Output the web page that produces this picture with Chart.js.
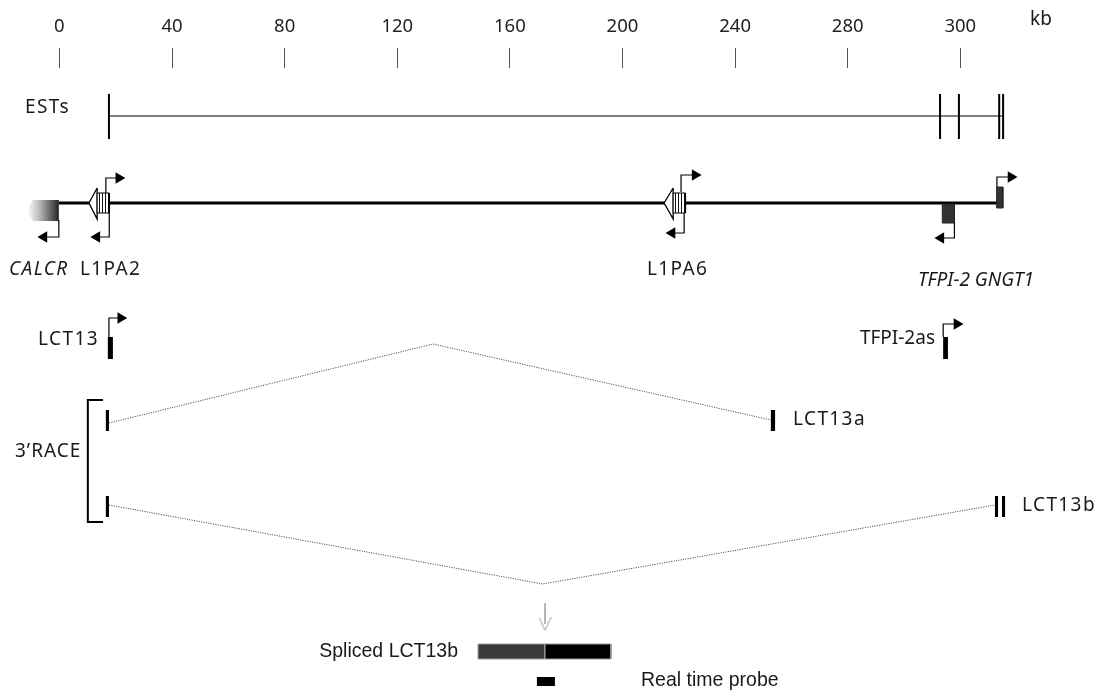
<!DOCTYPE html>
<html>
<head>
<meta charset="utf-8">
<script src="https://cdn.jsdelivr.net/npm/chart.js@4.4.1/dist/chart.umd.min.js"></script>
<style>
  html, body { margin: 0; padding: 0; background: #fff; }
  #wrap { width: 1098px; height: 691px; position: relative; }
</style>
</head>
<body>
<div id="wrap"><canvas id="map"></canvas></div>
<script>
// ---- data (positions along the drawn kb axis) ----
const tickPos = [0, 40, 80, 120, 160, 200, 240, 280, 320];
const tickLabels = ['0', '40', '80', '120', '160', '200', '240', '280', '300'];

const estStart = 17.6;
const estEnds = [312.8, 319.5, 333.8, 335.2];

const locusSpan = [-0.2, 333.0];
const calcrBox = [-11.5, -9.4, -0.2];      // tip, shoulder, right edge
const l1Tips = [10.5, 214.8];
const l1Bodies = [[13.4, 17.7], [218.0, 222.4]];
const tfpi2Box = [313.6, 317.9];
const gngt1Box = [332.9, 335.1];

const promoterStem = [-0.2, 16.5, 17.7, 220.8, 221.9, 317.9, 333.0, 17.6, 313.9];
const promoterHead = [-5.5, 21.1, 13.3, 225.8, 217.6, 313.1, 338.0, 21.8, 318.8];

const lct13Exon = [17.2, 19.0];
const tfpi2asExon = [313.9, 315.6];

const lct13aExons = [[16.5, 17.6], [252.7, 254.2]];
const lct13aApex = 132.7;
const lct13bExons = [[16.5, 17.6], [332.3, 333.4], [334.8, 335.9]];
const lct13bApex = 171.7;
const raceBracket = [10.1, 15.5];

const splicedExons = [[148.7, 172.5], [172.5, 195.9]];
const probe = [169.6, 176.0];

// ---- layout rows (pixels) ----
const EST_Y = 116, EST_TOP = 94, EST_BOT = 139;
const LOCUS_Y = 203;
const promoterY = [[220, 237], [193, 178], [213, 237], [192, 175], [213, 233], [223, 238], [187, 177], [337, 318], [337, 324]];

function line(pts, color, width, extra) {
  return Object.assign({
    data: pts.map(p => ({ x: p[0], y: p[1] })),
    showLine: true, borderColor: color, borderWidth: width,
    pointRadius: 0, fill: false
  }, extra || {});
}
function poly(pts, bg, border, bw) {
  const closed = pts.concat([pts[0]]);
  return line(closed, border || bg, bw === undefined ? 0 : bw, { fill: 'shape', backgroundColor: bg });
}
function box(x0, x1, y0, y1, bg, border, bw) {
  return poly([[x0, y0], [x1, y0], [x1, y1], [x0, y1]], bg, border, bw);
}

// striped fill for the L1 elements
const stripe = document.createElement('canvas');
stripe.width = 3; stripe.height = 4;
const sc = stripe.getContext('2d');
sc.fillStyle = '#fff'; sc.fillRect(0, 0, 3, 4);
sc.fillStyle = '#111'; sc.fillRect(0, 0, 1, 4);
const stripePattern = sc.createPattern(stripe, 'repeat');

// open grey arrow head
const vHead = document.createElement('canvas');
vHead.width = 13; vHead.height = 15;
const vc = vHead.getContext('2d');
vc.strokeStyle = '#9a9a9a'; vc.lineWidth = 1;
vc.beginPath(); vc.moveTo(0.5, 0.5); vc.lineTo(6.5, 14); vc.lineTo(12.5, 0.5); vc.stroke();

const ds = [];

// EST track
ds.push(line([[estStart, EST_Y], [estEnds[estEnds.length - 1], EST_Y]], '#000', 1));
[estStart].concat(estEnds).forEach(x => ds.push(line([[x, EST_TOP], [x, EST_BOT]], '#000', 2)));

// genomic locus
ds.push(line([[locusSpan[0], LOCUS_Y], [locusSpan[1], LOCUS_Y]], '#000', 3));
ds.push(poly([[calcrBox[0], 210], [calcrBox[1], 200], [calcrBox[2], 200], [calcrBox[2], 221], [calcrBox[1], 221]],
  function (c) {
    const ch = c.chart;
    if (!ch.chartArea) return '#333';
    const xs = ch.scales.x;
    const g = ch.ctx.createLinearGradient(xs.getPixelForValue(calcrBox[0]), 0, xs.getPixelForValue(calcrBox[2]), 0);
    g.addColorStop(0, 'rgba(50,50,50,0)');
    g.addColorStop(0.35, 'rgba(50,50,50,0.3)');
    g.addColorStop(1, 'rgba(35,35,35,1)');
    return g;
  }, 'rgba(0,0,0,0)', 0));
l1Tips.forEach((tip, i) => {
  const b = l1Bodies[i];
  ds.push(poly([[b[0], 188], [tip, LOCUS_Y], [b[0], 219]], '#fff', '#000', 1.3));
  ds.push(box(b[0], b[1], 193, 213, stripePattern, '#000', 1));
});
ds.push(box(tfpi2Box[0], tfpi2Box[1], 204, 223, '#333', '#222', 1));
ds.push(box(gngt1Box[0], gngt1Box[1], 187, 208, '#333', '#222', 1));

// transcripts
ds.push(box(lct13Exon[0], lct13Exon[1], 337, 359, '#000'));
ds.push(box(tfpi2asExon[0], tfpi2asExon[1], 337, 359, '#000'));

// promoter arrows (head on the last point)
promoterStem.forEach((s, i) => {
  const y = promoterY[i];
  const dir = promoterHead[i] > s ? 90 : -90;
  ds.push(line([[s, y[0]], [s, y[1]], [promoterHead[i], y[1]]], '#000', 1.2, {
    pointRadius: [0, 0, 6.5], pointStyle: 'triangle', pointRotation: dir,
    pointBackgroundColor: '#000', pointBorderColor: '#000', pointBorderWidth: 0
  }));
});

// 3'RACE
ds.push(line([[raceBracket[1], 400], [raceBracket[0], 400], [raceBracket[0], 522], [raceBracket[1], 522]], '#000', 2));
const dotted = { borderDash: [1.2, 1.2] };
ds.push(line([[lct13aExons[0][1], 423], [lct13aApex, 344], [lct13aExons[1][0], 420]], '#555', 1, dotted));
ds.push(line([[lct13bExons[0][1], 505], [lct13bApex, 584], [lct13bExons[1][0], 505]], '#555', 1, dotted));
lct13aExons.forEach(e => ds.push(box(e[0], e[1], 410, 431, '#000')));
lct13bExons.forEach(e => ds.push(box(e[0], e[1], 496, 517, '#000')));

// spliced product
const mid = splicedExons[0][1];
ds.push(line([[mid, 603], [mid, 624]], '#aaa', 1, {
  pointRadius: [0, 7], pointStyle: vHead
}));
ds.push(box(splicedExons[0][0], splicedExons[0][1], 644, 659, '#3a3a3a', '#999', 1));
ds.push(box(splicedExons[1][0], splicedExons[1][1], 644, 659, '#000', '#999', 1));
ds.push(box(probe[0], probe[1], 677, 686, '#000'));

// first dataset is painted last
ds.reverse();

const SANS = '"Noto Sans", "DejaVu Sans", sans-serif';
const ARIAL = '"Liberation Sans", Arial, sans-serif';
const texts = [
  { t: 'ESTs', x: 25, y: 108, a: 'left' },
  { t: 'CALCR', x: 9, y: 270, a: 'left', it: true },
  { t: 'L1PA2', x: 80, y: 270, a: 'left' },
  { t: 'L1PA6', x: 647, y: 270, a: 'left' },
  { t: 'TFPI-2 GNGT1', x: 918, y: 281, a: 'left', it: true, ls: '0px' },
  { t: 'LCT13', x: 99, y: 340, a: 'right' },
  { t: 'TFPI-2as', x: 935, y: 339, a: 'right', ls: '0px' },
  { t: '3\u2019RACE', x: 15, y: 452, a: 'left', ls: '1px' },
  { t: 'LCT13a', x: 793, y: 420, a: 'left' },
  { t: 'LCT13b', x: 1022, y: 506, a: 'left' },
  { t: 'Spliced LCT13b', x: 458, y: 652, a: 'right', f: ARIAL, ls: '0px' },
  { t: 'Real time probe', x: 641, y: 681, a: 'left', f: ARIAL, ls: '0px' },
  { t: 'kb', x: 1030, y: 20, a: 'left', ls: '0px' }
];

const labelPlugin = {
  id: 'labels',
  afterDraw(chart) {
    const c = chart.ctx;
    c.save();
    c.fillStyle = '#1a1a1a';
    c.textBaseline = 'middle';
    texts.forEach(o => {
      c.font = (o.it ? 'italic ' : '') + (o.f ? '19.5px ' + o.f : '19px ' + SANS);
      c.letterSpacing = o.ls || '1.4px';
      c.textAlign = o.a;
      c.fillText(o.t, o.x, o.y);
    });
    c.restore();
  }
};

new Chart(document.getElementById('map'), {
  type: 'scatter',
  data: { datasets: ds },
  options: {
    responsive: true,
    maintainAspectRatio: false,
    animation: false,
    layout: { padding: 0, autoPadding: false },
    plugins: { legend: { display: false }, tooltip: { enabled: false } },
    scales: {
      x: {
        type: 'linear', position: 'top', min: -21.1, max: 368.9,
        afterBuildTicks: s => { s.ticks = tickPos.map(v => ({ value: v })); },
        afterFit: s => { s.height = 68; },
        grid: { drawOnChartArea: false, drawTicks: true, tickLength: 20, color: '#555', lineWidth: 1 },
        border: { display: false },
        ticks: {
          padding: 10, color: '#222', maxRotation: 0, autoSkip: false,
          font: { family: SANS, size: 18.5 },
          callback: (v, i) => tickLabels[i]
        }
      },
      y: { display: false, min: 68, max: 691, reverse: true }
    }
  },
  plugins: [labelPlugin]
});
</script>
</body>
</html>
